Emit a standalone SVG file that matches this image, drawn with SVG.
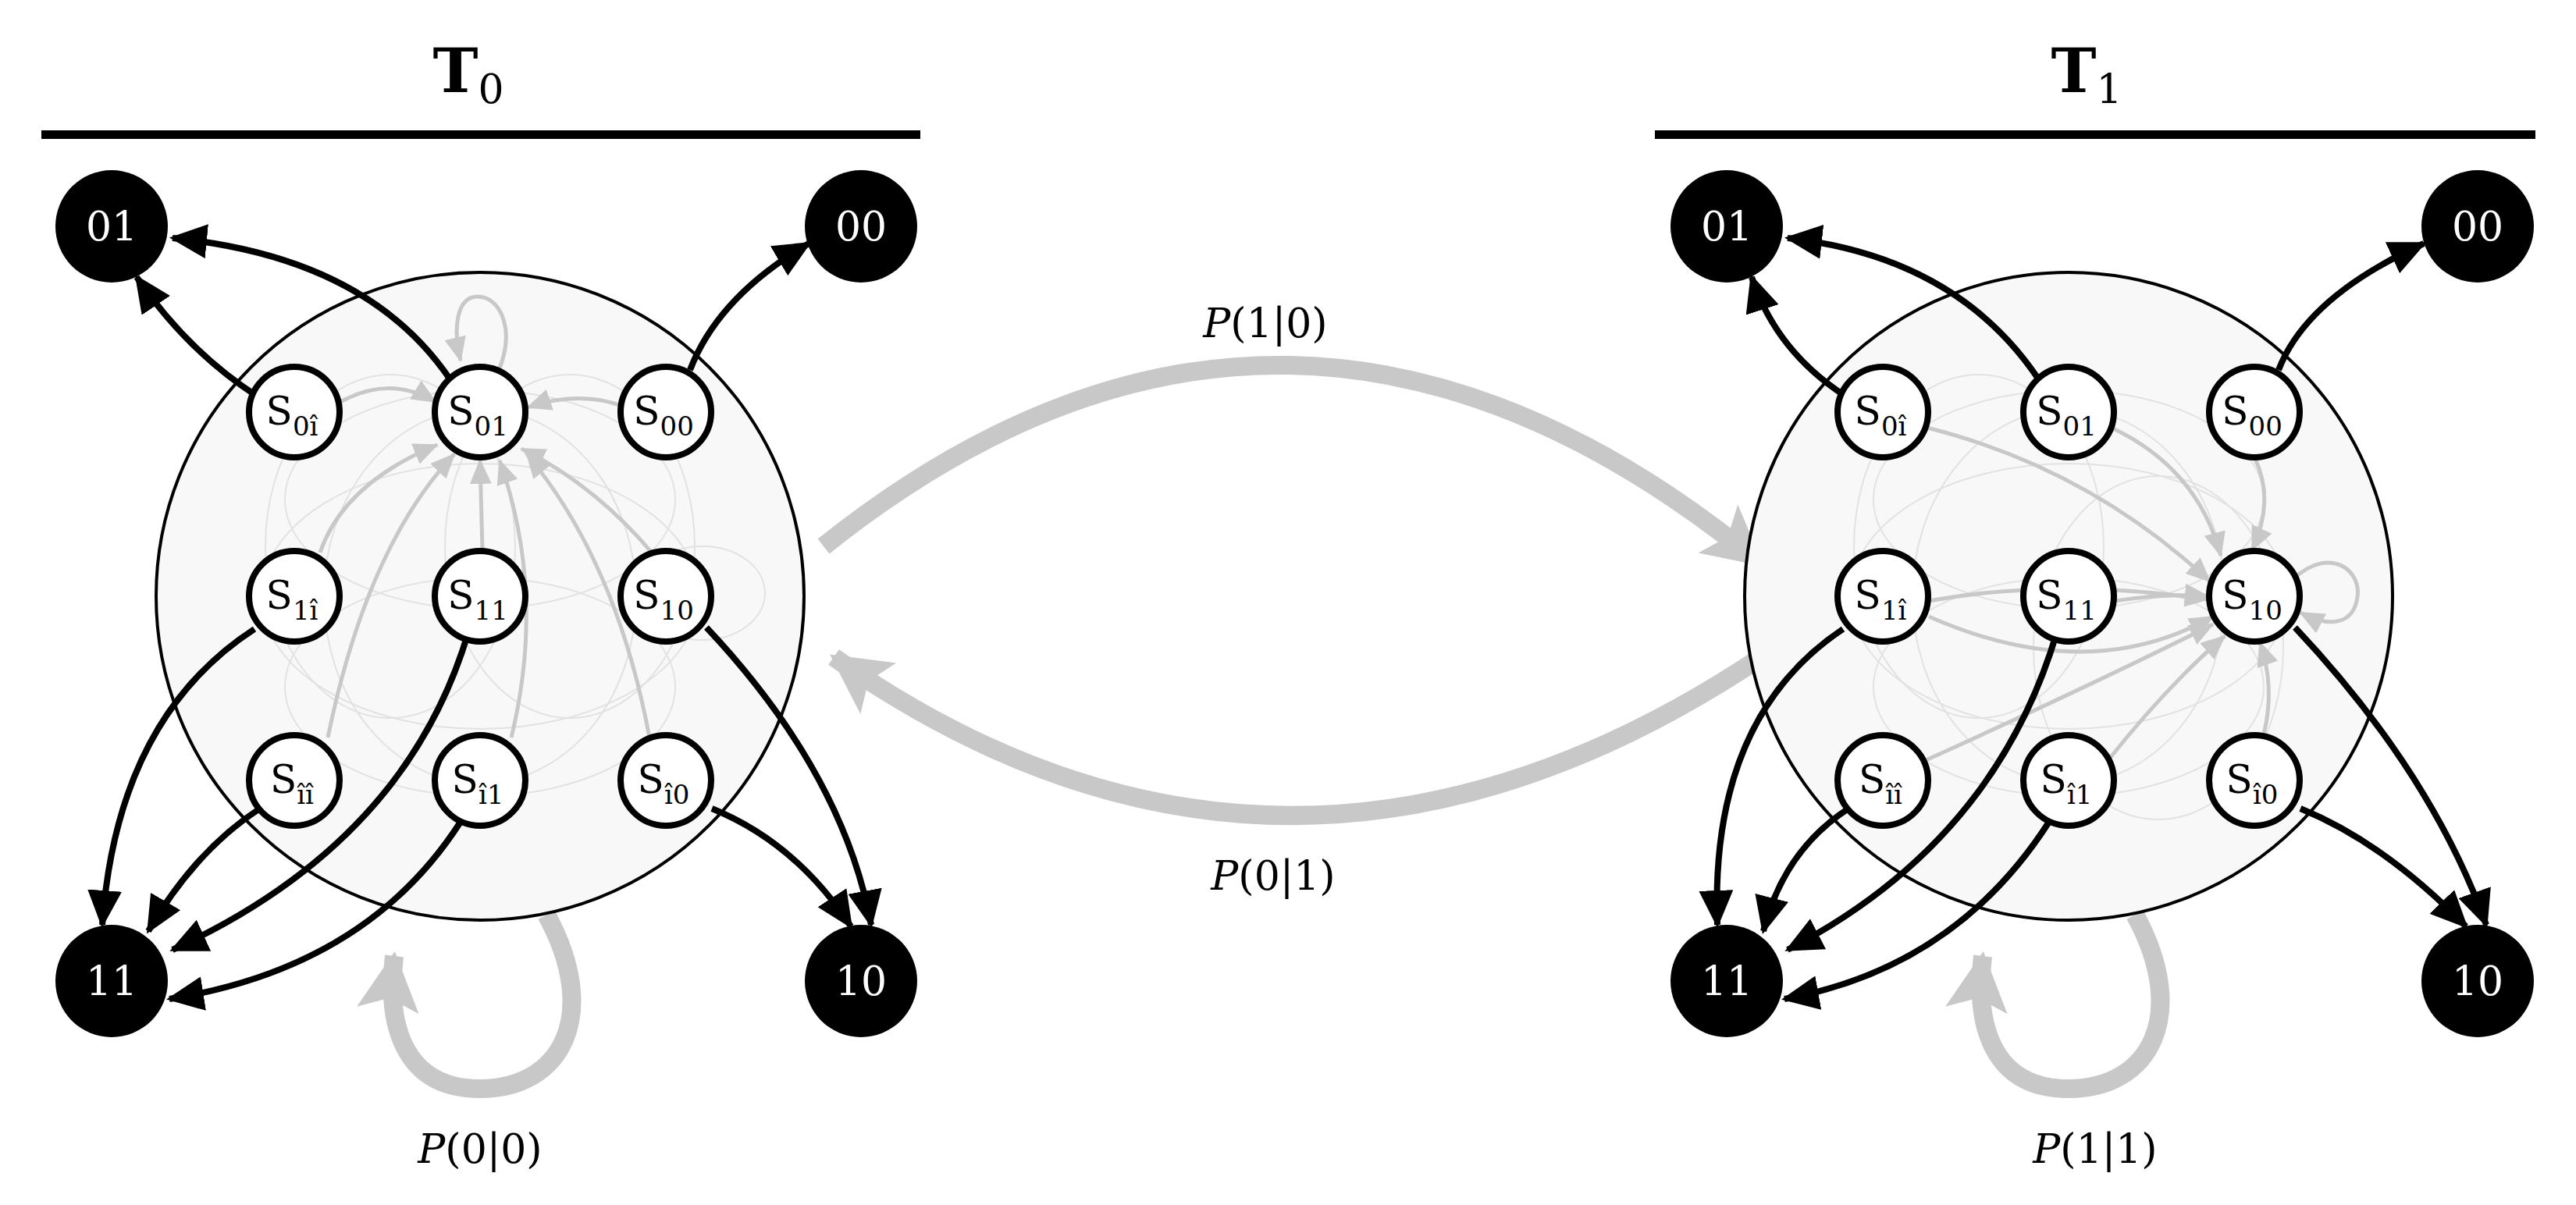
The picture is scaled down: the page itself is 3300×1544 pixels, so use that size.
<svg xmlns="http://www.w3.org/2000/svg" width="3300" height="1544" viewBox="0 0 3300 1544">
<style>
.bg{fill:#f8f8f8;stroke:#000;stroke-width:4}
.sn{fill:#fff;stroke:#000;stroke-width:8}
.tn{fill:#000}
.st{font-family:"DejaVu Serif","Liberation Serif",serif;font-size:50px;text-anchor:middle}
.sub{font-size:34px}
.tt{font-family:"DejaVu Serif","Liberation Serif",serif;font-size:52px;fill:#fff;text-anchor:middle}
.blk{fill:none;stroke:#000;stroke-width:8;marker-end:url(#ab)}
.gry{fill:none;stroke:#c8c8c8;stroke-width:5;marker-end:url(#ag)}
.big{fill:none;stroke:#c8c8c8;stroke-width:24;marker-end:url(#abig)}
.faint{fill:none;stroke:#e2e2e2;stroke-width:2}
.lbl{font-family:"DejaVu Serif","Liberation Serif",serif;font-size:52px;text-anchor:middle}
.ttl{font-family:"DejaVu Serif","Liberation Serif",serif;font-size:78px;font-weight:bold;text-anchor:middle}
</style>
<defs>
<marker id="ab" markerUnits="userSpaceOnUse" markerWidth="50" markerHeight="44" refX="44" refY="22" orient="auto"><path d="M0,0 L48,22 L0,44 Z" fill="#000"/></marker>
<marker id="ag" markerUnits="userSpaceOnUse" markerWidth="34" markerHeight="28" refX="30" refY="14" orient="auto"><path d="M0,0 L32,14 L0,28 Z" fill="#c8c8c8"/></marker>
<marker id="abig" markerUnits="userSpaceOnUse" markerWidth="80" markerHeight="80" refX="70" refY="40" orient="auto"><path d="M0,0 L76,40 L0,80 L16,40 Z" fill="#c8c8c8"/></marker>
</defs>

<!-- titles -->
<g id="title0"><text class="ttl" x="600" y="118">T<tspan font-weight="normal" font-size="52" dy="14">0</tspan></text><rect x="53" y="167" width="1126" height="11"/></g>
<g id="title1"><text class="ttl" x="2673" y="118">T<tspan font-weight="normal" font-size="52" dy="14">1</tspan></text><rect x="2120" y="167" width="1128" height="11"/></g>

<!-- big transitions -->
<g id="transitions">
<path class="big" d="M1055 700 Q1650 225 2255 722"/>
<path class="big" d="M2262 838 Q1650 1250 1068 842"/>
<path class="big" d="M700 1172 C770 1300 720 1395 615 1395 C515 1395 495 1310 505 1225"/>
<path class="big" d="M2735 1172 C2805 1300 2755 1395 2650 1395 C2550 1395 2530 1310 2540 1225"/>
<text class="lbl" x="1621" y="432"><tspan font-style="italic">P</tspan>(1|0)</text>
<text class="lbl" x="1631" y="1140"><tspan font-style="italic">P</tspan>(0|1)</text>
<text class="lbl" x="615" y="1490"><tspan font-style="italic">P</tspan>(0|0)</text>
<text class="lbl" x="2684" y="1490"><tspan font-style="italic">P</tspan>(1|1)</text>
</g>

<!-- LEFT PANEL -->
<g id="panel0">
<circle id="region0" class="bg" cx="615" cy="764" r="415"/>
<g id="faint0">
<ellipse class="faint" cx="615" cy="764" rx="200" ry="240"/>
<ellipse class="faint" cx="615" cy="764" rx="280" ry="170"/>
<ellipse class="faint" cx="500" cy="700" rx="160" ry="220"/>
<ellipse class="faint" cx="730" cy="700" rx="160" ry="220"/>
<ellipse class="faint" cx="615" cy="880" rx="250" ry="140"/>
<ellipse class="faint" cx="615" cy="640" rx="250" ry="140"/>
<ellipse class="faint" cx="900" cy="760" rx="80" ry="60"/>
</g>
<g id="grey0">
<path class="gry" d="M640 472 C660 420 640 380 612 380 C585 380 580 420 590 462"/>
<path class="gry" d="M436 515 Q500 480 558 515"/>
<path class="gry" d="M796 520 Q740 500 676 522"/>
<path class="gry" d="M410 708 Q440 620 560 570"/>
<path class="gry" d="M420 945 Q470 700 582 582"/>
<path class="gry" d="M618 705 L615 590"/>
<path class="gry" d="M655 945 Q700 760 640 590"/>
<path class="gry" d="M835 708 Q760 620 668 575"/>
<path class="gry" d="M832 945 Q790 720 675 582"/>
</g>
</g>
<g id="connectors0">
<path class="blk" d="M330 508 Q240 450 175 355"/>
<path class="blk" d="M585 499 Q480 330 221 305"/>
<path class="blk" d="M884 474 Q920 380 1036 312"/>
<path class="blk" d="M326 806 Q150 920 131 1185"/>
<path class="blk" d="M600 810 Q520 1080 221 1217"/>
<path class="blk" d="M333 1036 Q250 1090 190 1193"/>
<path class="blk" d="M590 1053 Q470 1240 217 1280"/>
<path class="blk" d="M905 804 Q1080 990 1116 1185"/>
<path class="blk" d="M912 1036 Q1020 1080 1090 1187"/>
</g>
<g id="L_S0h"><circle class="sn" cx="377" cy="528" r="58"/><text class="st" x="374" y="544">S<tspan class="sub" dy="14">0î</tspan></text></g>
<g id="L_S01"><circle class="sn" cx="615" cy="528" r="58"/><text class="st" x="612" y="544">S<tspan class="sub" dy="14">01</tspan></text></g>
<g id="L_S00"><circle class="sn" cx="853" cy="528" r="58"/><text class="st" x="850" y="544">S<tspan class="sub" dy="14">00</tspan></text></g>
<g id="L_S1h"><circle class="sn" cx="377" cy="764" r="58"/><text class="st" x="374" y="780">S<tspan class="sub" dy="14">1î</tspan></text></g>
<g id="L_S11"><circle class="sn" cx="615" cy="764" r="58"/><text class="st" x="612" y="780">S<tspan class="sub" dy="14">11</tspan></text></g>
<g id="L_S10"><circle class="sn" cx="853" cy="764" r="58"/><text class="st" x="850" y="780">S<tspan class="sub" dy="14">10</tspan></text></g>
<g id="L_Shh"><circle class="sn" cx="377" cy="1000" r="58"/><text class="st" x="374" y="1016">S<tspan class="sub" dy="14">îî</tspan></text></g>
<g id="L_Sh1"><circle class="sn" cx="615" cy="1000" r="58"/><text class="st" x="612" y="1016">S<tspan class="sub" dy="14">î1</tspan></text></g>
<g id="L_Sh0"><circle class="sn" cx="853" cy="1000" r="58"/><text class="st" x="850" y="1016">S<tspan class="sub" dy="14">î0</tspan></text></g>
<g id="L_01"><circle class="tn" cx="143" cy="290" r="72"/><text class="tt" x="143" y="308">01</text></g>
<g id="L_00"><circle class="tn" cx="1103" cy="290" r="72"/><text class="tt" x="1103" y="308">00</text></g>
<g id="L_11"><circle class="tn" cx="143" cy="1257" r="72"/><text class="tt" x="143" y="1275">11</text></g>
<g id="L_10"><circle class="tn" cx="1103" cy="1257" r="72"/><text class="tt" x="1103" y="1275">10</text></g>

<!-- RIGHT PANEL -->
<g id="panel1" transform="translate(2035,0)">
<circle id="region1" class="bg" cx="615" cy="764" r="415"/>
<g id="faint1">
<ellipse class="faint" cx="615" cy="764" rx="200" ry="240"/>
<ellipse class="faint" cx="615" cy="764" rx="280" ry="170"/>
<ellipse class="faint" cx="500" cy="700" rx="160" ry="220"/>
<ellipse class="faint" cx="730" cy="830" rx="160" ry="220"/>
<ellipse class="faint" cx="615" cy="880" rx="250" ry="140"/>
<ellipse class="faint" cx="615" cy="640" rx="250" ry="140"/>
</g>
<g id="grey1">
<path class="gry" d="M434 548 Q640 600 796 745"/>
<path class="gry" d="M670 548 Q780 600 810 712"/>
<path class="gry" d="M853 586 Q880 640 850 705"/>
<path class="gry" d="M436 770 Q600 740 794 768"/>
<path class="gry" d="M674 770 Q740 760 794 764"/>
<path class="gry" d="M430 975 Q640 880 800 800"/>
<path class="gry" d="M665 975 Q740 880 815 815"/>
<path class="gry" d="M865 941 Q880 880 860 823"/>
<path class="gry" d="M905 740 C950 700 990 730 985 765 C980 800 950 805 912 785"/>
<path class="gry" d="M436 790 Q640 880 800 790"/>
</g>
</g>
<g id="connectors1">
<path class="blk" d="M2365 508 Q2275 450 2244 355"/>
<path class="blk" d="M2620 499 Q2515 330 2290 305"/>
<path class="blk" d="M2919 474 Q2955 380 3105 312"/>
<path class="blk" d="M2361 806 Q2190 920 2200 1185"/>
<path class="blk" d="M2635 810 Q2555 1080 2290 1217"/>
<path class="blk" d="M2368 1036 Q2285 1090 2259 1193"/>
<path class="blk" d="M2625 1053 Q2505 1240 2286 1280"/>
<path class="blk" d="M2940 804 Q3115 990 3185 1185"/>
<path class="blk" d="M2947 1036 Q3055 1080 3159 1187"/>
</g>
<g id="R_S0h"><circle class="sn" cx="2412" cy="528" r="58"/><text class="st" x="2409" y="544">S<tspan class="sub" dy="14">0î</tspan></text></g>
<g id="R_S01"><circle class="sn" cx="2650" cy="528" r="58"/><text class="st" x="2647" y="544">S<tspan class="sub" dy="14">01</tspan></text></g>
<g id="R_S00"><circle class="sn" cx="2888" cy="528" r="58"/><text class="st" x="2885" y="544">S<tspan class="sub" dy="14">00</tspan></text></g>
<g id="R_S1h"><circle class="sn" cx="2412" cy="764" r="58"/><text class="st" x="2409" y="780">S<tspan class="sub" dy="14">1î</tspan></text></g>
<g id="R_S11"><circle class="sn" cx="2650" cy="764" r="58"/><text class="st" x="2647" y="780">S<tspan class="sub" dy="14">11</tspan></text></g>
<g id="R_S10"><circle class="sn" cx="2888" cy="764" r="58"/><text class="st" x="2885" y="780">S<tspan class="sub" dy="14">10</tspan></text></g>
<g id="R_Shh"><circle class="sn" cx="2412" cy="1000" r="58"/><text class="st" x="2409" y="1016">S<tspan class="sub" dy="14">îî</tspan></text></g>
<g id="R_Sh1"><circle class="sn" cx="2650" cy="1000" r="58"/><text class="st" x="2647" y="1016">S<tspan class="sub" dy="14">î1</tspan></text></g>
<g id="R_Sh0"><circle class="sn" cx="2888" cy="1000" r="58"/><text class="st" x="2885" y="1016">S<tspan class="sub" dy="14">î0</tspan></text></g>
<g id="R_01"><circle class="tn" cx="2212" cy="290" r="72"/><text class="tt" x="2212" y="308">01</text></g>
<g id="R_00"><circle class="tn" cx="3174" cy="290" r="72"/><text class="tt" x="3174" y="308">00</text></g>
<g id="R_11"><circle class="tn" cx="2212" cy="1257" r="72"/><text class="tt" x="2212" y="1275">11</text></g>
<g id="R_10"><circle class="tn" cx="3174" cy="1257" r="72"/><text class="tt" x="3174" y="1275">10</text></g>
</svg>
